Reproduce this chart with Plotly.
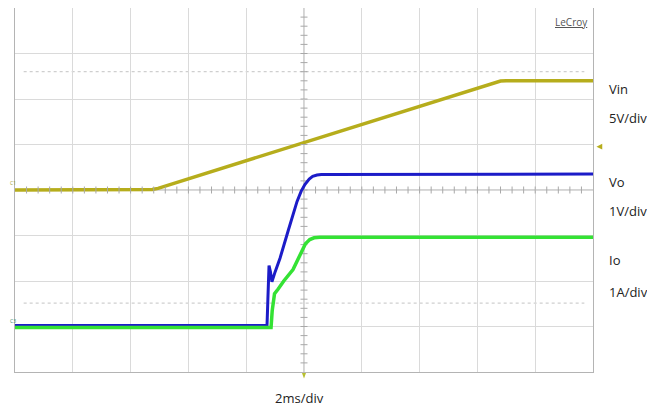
import numpy as np
import plotly.graph_objects as go

# ---- data (time in ms, 2 ms/div, 10 divisions) ----
vin_t = [0.0, 4.60, 4.75, 4.95, 10.0, 16.60, 16.80, 17.00, 20.0]
vin_v = [0.0, 0.0, 0.05, 0.18, 5.20, 11.85, 11.98, 12.0, 12.0]   # V, 5 V/div

vo_t = [0.0, 8.72, 8.75, 8.79, 8.84, 8.89, 9.00, 9.17, 9.45, 9.62, 9.76, 9.90, 10.03, 10.18, 10.30, 10.45, 10.60, 20.0]
vo_v = [0.02, 0.02, 0.60, 1.34, 1.20, 0.98, 1.20, 1.50, 2.10, 2.45, 2.75, 2.97, 3.12, 3.24, 3.30, 3.33, 3.34, 3.35]  # V, 1 V/div

io_t = [0.0, 8.86, 8.90, 8.94, 8.98, 9.10, 9.30, 9.62, 9.90, 10.05, 10.20, 10.35, 10.55, 20.0]
io_a = [-0.02, -0.02, 0.35, 0.62, 0.72, 0.82, 1.00, 1.25, 1.65, 1.82, 1.91, 1.95, 1.96, 1.96]  # A, 1 A/div

labels = [("Vin", 0.778), ("5V/div", 0.699), ("Vo", 0.521), ("1V/div", 0.441), ("Io", 0.307), ("1A/div", 0.219)]
timebase = "2ms/div"

VIN_C = "#b6ad1c"
VO_C = "#1c1cc8"
IO_C = "#34e234"
GRID_C = "#dadada"
CENTER_C = "#a8a8a8"

fig = go.Figure()
fig.add_trace(go.Scatter(x=vin_t, y=vin_v, mode="lines", line=dict(color=VIN_C, width=3.5), yaxis="y"))
fig.add_trace(go.Scatter(x=vo_t, y=vo_v, mode="lines", line=dict(color=VO_C, width=3), yaxis="y2"))
fig.add_trace(go.Scatter(x=io_t, y=io_a, mode="lines", line=dict(color=IO_C, width=3.5), yaxis="y3"))

# minor tick marks along the centre cross (every 0.2 div)
tx = np.arange(0.4, 20.0, 0.4)
fig.add_trace(go.Scatter(x=tx, y=np.zeros_like(tx), mode="markers", yaxis="y",
                         marker=dict(symbol="line-ns", size=5, line=dict(color=CENTER_C, width=1)),
                         hoverinfo="skip"))
ty = np.arange(-19.0, 20.0, 1.0)
fig.add_trace(go.Scatter(x=np.full_like(ty, 10.0), y=ty, mode="markers", yaxis="y",
                         marker=dict(symbol="line-ew", size=5, line=dict(color=CENTER_C, width=1)),
                         hoverinfo="skip"))

shapes = [
    dict(type="line", xref="x", yref="paper", x0=10, x1=10, y0=0, y1=1, line=dict(color=CENTER_C, width=1), layer="below"),
    dict(type="line", xref="paper", yref="paper", x0=0, x1=1, y0=0.5, y1=0.5, line=dict(color=CENTER_C, width=1), layer="below"),
    dict(type="line", xref="paper", yref="paper", x0=0.015, x1=0.985, y0=0.825, y1=0.825, line=dict(color="#cfcfcf", width=1.3, dash="dot"), layer="below"),
    dict(type="line", xref="paper", yref="paper", x0=0.015, x1=0.985, y0=0.189, y1=0.189, line=dict(color="#cfcfcf", width=1.3, dash="dot"), layer="below"),
    # trigger level marker (right) and trigger position marker (bottom)
    dict(type="path", xref="paper", yref="paper", path="M 1.016 0.627 L 1.006 0.619 L 1.016 0.611 Z", fillcolor=VIN_C, line=dict(width=0)),
    dict(type="path", xref="paper", yref="paper", path="M 0.4965 -0.003 L 0.5035 -0.003 L 0.5 -0.018 Z", fillcolor="#b8c030", line=dict(width=0)),
]

annotations = []
for txt, yp in labels:
    annotations.append(dict(text=txt, xref="paper", yref="paper", x=1.024, y=yp, xanchor="left", yanchor="middle",
                            showarrow=False, font=dict(family="Open Sans", size=13, color="#222222")))
annotations.append(dict(text=timebase, xref="paper", yref="paper", x=0.493, y=-0.071, xanchor="center", yanchor="middle",
                        showarrow=False, font=dict(family="Open Sans", size=13, color="#222222")))
annotations.append(dict(text="<u>LeCroy</u>", xref="paper", yref="paper", x=0.995, y=0.985, xanchor="right", yanchor="top",
                        showarrow=False, font=dict(family="Open Sans", size=10, color="#555555")))
annotations.append(dict(text="C1", xref="paper", yref="paper", x=-0.0115, y=0.52, xanchor="left", yanchor="middle",
                        showarrow=False, font=dict(family="Open Sans", size=5, color="#a09a30")))
annotations.append(dict(text="C3", xref="paper", yref="paper", x=-0.0115, y=0.14, xanchor="left", yanchor="middle",
                        showarrow=False, font=dict(family="Open Sans", size=5, color="#3a8a6a")))

# page body adds an ~8px offset, so the figure is sized to fit the 655x414 window
fig.update_layout(
    width=647, height=406,
    margin=dict(l=7, r=62, t=0, b=42),
    paper_bgcolor="white", plot_bgcolor="white",
    showlegend=False,
    shapes=shapes, annotations=annotations,
    xaxis=dict(range=[0, 20], dtick=2, showgrid=True, gridcolor=GRID_C, gridwidth=1,
               showticklabels=False, ticks="", zeroline=False,
               showline=True, mirror=True, linecolor="#b4b4b4", linewidth=1),
    yaxis=dict(range=[-20, 20], dtick=5, showgrid=True, gridcolor=GRID_C, gridwidth=1,
               showticklabels=False, ticks="", zeroline=False,
               showline=True, mirror=True, linecolor="#b4b4b4", linewidth=1),
    yaxis2=dict(range=[-1, 7], overlaying="y", visible=False),
    yaxis3=dict(range=[-1, 7], overlaying="y", visible=False),
)

fig.write_html("out.html")
